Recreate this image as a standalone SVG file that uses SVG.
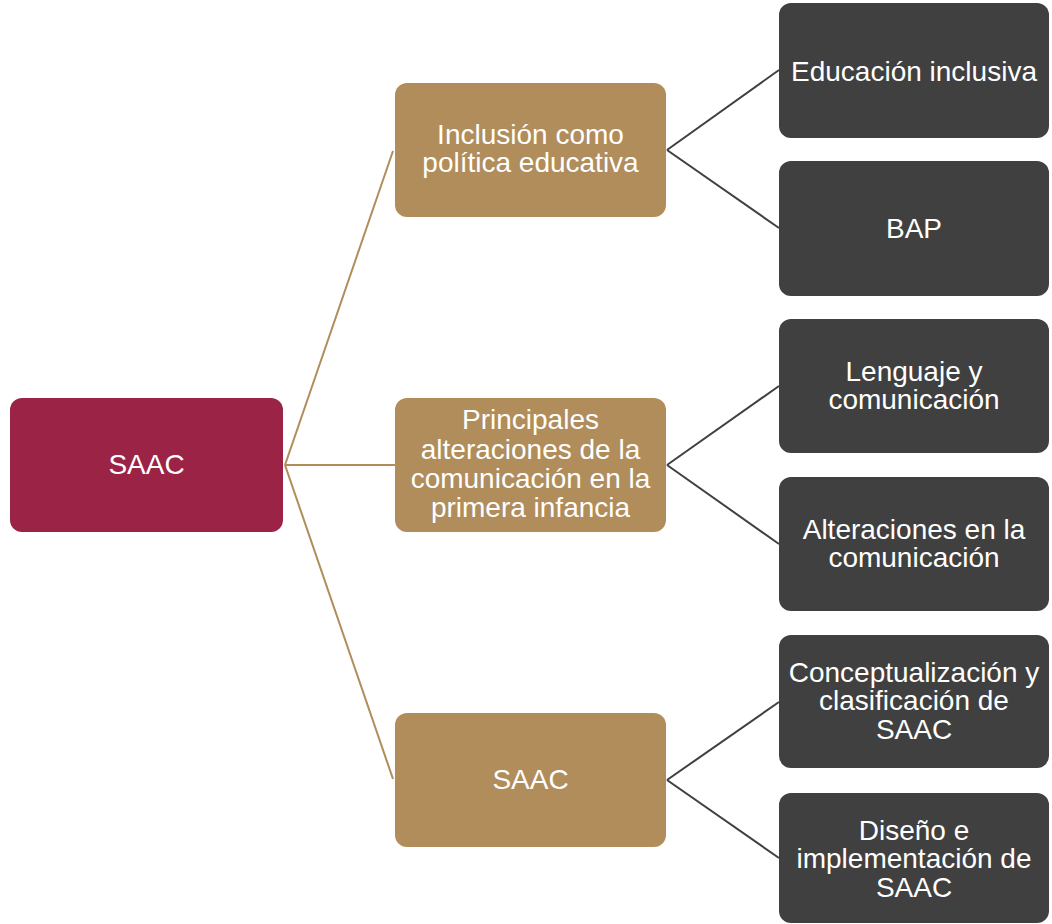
<svg xmlns="http://www.w3.org/2000/svg" width="1052" height="924" viewBox="0 0 1052 924">
<style>
.root{fill:#9B2345}
.mid{fill:#B08D5B}
.leaf{fill:#404040}
text{font-family:"Liberation Sans",Arial,sans-serif;font-size:28px;fill:#FFFFFF;text-anchor:middle}
.cg{stroke:#B08D5B;stroke-width:2;fill:none}
.cd{stroke:#404040;stroke-width:2;fill:none}
</style>
<rect width="1052" height="924" fill="#FFFFFF"/>
<g id="connectors">
<line class="cg" x1="285" y1="465" x2="393" y2="151"/>
<line class="cg" x1="285" y1="465" x2="395" y2="465"/>
<line class="cg" x1="285" y1="465" x2="393" y2="779"/>
<line class="cd" x1="667" y1="150" x2="779" y2="70"/>
<line class="cd" x1="667" y1="150" x2="779" y2="228"/>
<line class="cd" x1="667" y1="465" x2="779" y2="386"/>
<line class="cd" x1="667" y1="465" x2="779" y2="544"/>
<line class="cd" x1="667" y1="780" x2="779" y2="702"/>
<line class="cd" x1="667" y1="780" x2="779" y2="858"/>
</g>
<g id="node-root">
<rect class="root" x="10" y="398" width="273" height="134" rx="12"/>
<text x="146.5" y="474">SAAC</text>
</g>
<g id="node-inclusion">
<rect class="mid" x="395" y="83" width="271" height="134" rx="12"/>
<text x="530.5" y="144">Inclusión como</text>
<text x="530.5" y="172">política educativa</text>
</g>
<g id="node-principales">
<rect class="mid" x="395" y="398" width="271" height="134" rx="12"/>
<text x="530.5" y="429">Principales</text>
<text x="530.5" y="458.5">alteraciones de la</text>
<text x="530.5" y="488">comunicación en la</text>
<text x="530.5" y="517">primera infancia</text>
</g>
<g id="node-saac2">
<rect class="mid" x="395" y="713" width="271" height="134" rx="12"/>
<text x="530.5" y="789">SAAC</text>
</g>
<g id="node-educacion">
<rect class="leaf" x="779" y="3" width="270" height="135" rx="12"/>
<text x="914" y="81">Educación inclusiva</text>
</g>
<g id="node-bap">
<rect class="leaf" x="779" y="161" width="270" height="135" rx="12"/>
<text x="914" y="238">BAP</text>
</g>
<g id="node-lenguaje">
<rect class="leaf" x="779" y="319" width="270" height="134" rx="12"/>
<text x="914" y="381">Lenguaje y</text>
<text x="914" y="409">comunicación</text>
</g>
<g id="node-alteraciones">
<rect class="leaf" x="779" y="477" width="270" height="134" rx="12"/>
<text x="914" y="539">Alteraciones en la</text>
<text x="914" y="567">comunicación</text>
</g>
<g id="node-conceptualizacion">
<rect class="leaf" x="779" y="635" width="270" height="133" rx="12"/>
<text x="914" y="682">Conceptualización y</text>
<text x="914" y="710">clasificación de</text>
<text x="914" y="739">SAAC</text>
</g>
<g id="node-diseno">
<rect class="leaf" x="779" y="793" width="270" height="130" rx="12"/>
<text x="914" y="840">Diseño e</text>
<text x="914" y="868">implementación de</text>
<text x="914" y="897">SAAC</text>
</g>
</svg>
